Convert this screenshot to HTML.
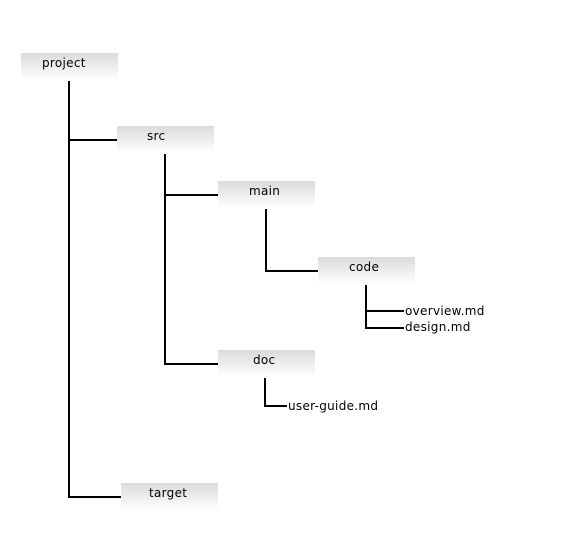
<!DOCTYPE html>
<html><head><meta charset="utf-8"><style>
body{margin:0;background:#fff;width:566px;height:557px;position:relative;overflow:hidden;font-family:"DejaVu Sans","Liberation Sans",sans-serif;font-size:12px;letter-spacing:0.3px;color:#000}
.b{position:absolute;width:97px;height:27px;background:linear-gradient(#dadada,#ffffff);box-sizing:border-box}
.t{position:absolute;line-height:14px}
svg{position:absolute;left:0;top:0}
</style></head><body>
<svg width="566" height="557"><g stroke="#000" stroke-width="2" fill="none">
<path d="M69 81V497H121"/><path d="M69 140H117"/>
<path d="M165 154V364H218"/><path d="M165 195H218"/>
<path d="M266 209V271H318"/>
<path d="M366 285V328H404"/><path d="M366 311H404"/>
<path d="M265 378V406H287"/>
</g></svg>
<div class="b" style="left:21px;top:53px"></div>
<div class="b" style="left:117px;top:126px"></div>
<div class="b" style="left:218px;top:181px"></div>
<div class="b" style="left:318px;top:257px"></div>
<div class="b" style="left:218px;top:350px"></div>
<div class="b" style="left:121px;top:483px"></div>
<div class="t" style="left:42px;top:56px">project</div>
<div class="t" style="left:147px;top:129px">src</div>
<div class="t" style="left:249px;top:184px">main</div>
<div class="t" style="left:349px;top:260px">code</div>
<div class="t" style="left:253px;top:353px">doc</div>
<div class="t" style="left:149px;top:486px">target</div>
<div class="t" style="left:405px;top:304px">overview.md</div>
<div class="t" style="left:405px;top:320px">design.md</div>
<div class="t" style="left:288px;top:399px">user-guide.md</div>
</body></html>
